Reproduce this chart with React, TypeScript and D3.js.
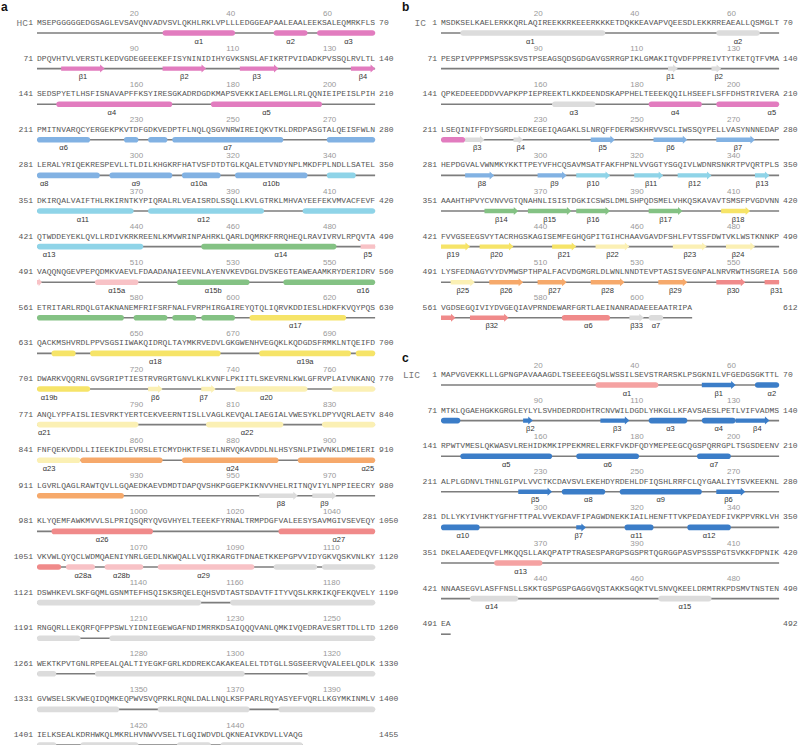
import React from 'react';
import * as d3 from 'd3';

// ---------------- DATA ----------------
const hcRows = [
  'MSEPGGGGGEDGSAGLEVSAVQNVADVSVLQKHLRKLVPLLLEDGGEAPAALEAALEEKSALEQMRKFLS',
  'DPQVHTVLVERSTLKEDVGDEGEEEKEFISYNINIDIHYGVKSNSLAFIKRTPVIDADKPVSSQLRVLTL',
  'SEDSPYETLHSFISNAVAPFFKSYIRESGKADRDGDKMAPSVEKKIAELEMGLLRLQQNIEIPEISLPIH',
  'PMITNVARQCYERGEKPKVTDFGDKVEDPTFLNQLQSGVNRWIREIQKVTKLDRDPASGTALQEISFWLN',
  'LERALYRIQEKRESPEVLLTLDILKHGKRFHATVSFDTDTGLKQALETVNDYNPLMKDFPLNDLLSATEL',
  'DKIRQALVAIFTHLRKIRNTKYPIQRALRLVEAISRDLSSQLLKVLGTRKLMHVAYEEFEKVMVACFEVF',
  'QTWDDEYEKLQVLLRDIVKRKREENLKMVWRINPAHRKLQARLDQMRKFRRQHEQLRAVIVRVLRPQVTA',
  'VAQQNQGEVPEPQDMKVAEVLFDAADANAIEEVNLAYENVKEVDGLDVSKEGTEAWEAAMKRYDERIDRV',
  'ETRITARLRDQLGTAKNANEMFRIFSRFNALFVRPHIRGAIREYQTQLIQRVKDDIESLHDKFKVQYPQS',
  'QACKMSHVRDLPPVSGSIIWAKQIDRQLTAYMKRVEDVLGKGWENHVEGQKLKQDGDSFRMKLNTQEIFD',
  'DWARKVQQRNLGVSGRIPTIESTRVRGRTGNVLKLKVNFLPKIITLSKEVRNLKWLGFRVPLAIVNKANQ',
  'ANQLYPFAISLIESVRKTYERTCEKVEERNTISLLVAGLKEVQALIAEGIALVWESYKLDPYVQRLAETV',
  'FNFQEKVDDLLIIEEKIDLEVRSLETCMYDHKTFSEILNRVQKAVDDLNLHSYSNLPIWVNKLDMEIERI',
  'LGVRLQAGLRAWTQVLLGQAEDKAEVDMDTDAPQVSHKPGGEPKIKNVVHELRITNQVIYLNPPIEECRY',
  'KLYQEMFAWKMVVLSLPRIQSQRYQVGVHYELTEEEKFYRNALTRMPDGFVALEESYSAVMGIVSEVEQY',
  'VKVWLQYQCLWDMQAENIYNRLGEDLNKWQALLVQIRKARGTFDNAETKKEPGPVVIDYGKVQSKVNLKY',
  'DSWHKEVLSKFGQMLGSNMTEFHSQISKSRQELEQHSVDTASTSDAVTFITYVQSLKRKIKQFEKQVELY',
  'RNGQRLLEKQRFQFPPSWLYIDNIEGEWGAFNDIMRRKDSAIQQQVANLQMKIVQEDRAVESRTTDLLTD',
  'WEKTKPVTGNLRPEEALQALTIYEGKFGRLKDDREKCAKAKEALELTDTGLLSGSEERVQVALEELQDLK',
  'GVWSELSKVWEQIDQMKEQPWVSVQPRKLRQNLDALLNQLKSFPARLRQYASYEFVQRLLKGYMKINMLV',
  'IELKSEALKDRHWKQLMKRLHVNWVVSELTLGQIWDVDLQKNEAIVKDVLLVAQG',
];

const icRows = [
  'MSDKSELKAELERKKQRLAQIREEKKRKEEERKKKETDQKKEAVAPVQEESDLEKKRREAEALLQSMGLT',
  'PESPIVPPPMSPSSKSVSTPSEAGSQDSGDGAVGSRRGPIKLGMAKITQVDFPPREIVTYTKETQTFVMA',
  'QPKEDEEEDDDVVAPKPPIEPREEKTLKKDEENDSKAPPHELTEEEKQQILHSEEFLSFFDHSTRIVERA',
  'LSEQINIFFDYSGRDLEDKEGEIQAGAKLSLNRQFFDERWSKHRVVSCLIWSSQYPELLVASYNNNEDAP',
  'HEPDGVALVWNMKYKKTTPEYVFHCQSAVMSATFAKFHPNLVVGGTYSGQIVLWDNRSNKRTPVQRTPLS',
  'AAAHTHPVYCVNVVGTQNAHNLISISTDGKICSWSLDMLSHPQDSMELVHKQSKAVAVTSMSFPVGDVNN',
  'FVVGSEEGSVYTACRHGSKAGISEMFEGHQGPITGIHCHAAVGAVDFSHLFVTSSFDWTVKLWSTKNNKP',
  'LYSFEDNAGYVYDVMWSPTHPALFACVDGMGRLDLWNLNNDTEVPTASISVEGNPALNRVRWTHSGREIA',
  'VGDSEGQIVIYDVGEQIAVPRNDEWARFGRTLAEINANRADAEEEAATRIPA',
];

const licRows = [
  'MAPVGVEKKLLLGPNGPAVAAAGDLTSEEEEGQSLWSSILSEVSTRARSKLPSGKNILVFGEDGSGKTTL',
  'MTKLQGAEHGKKGRGLEYLYLSVHDEDRDDHTRCNVWILDGDLYHKGLLKFAVSAESLPETLVIFVADMS',
  'RPWTVMESLQKWASVLREHIDKMKIPPEKMRELERKFVKDFQDYMEPEEGCQGSPQRRGPLTSGSDEENV',
  'ALPLGDNVLTHNLGIPVLVVCTKCDAVSVLEKEHDYRDEHLDFIQSHLRRFCLQYGAALIYTSVKEEKNL',
  'DLLYKYIVHKTYGFHFTTPALVVEKDAVFIPAGWDNEKKIAILHENFTTVKPEDAYEDFIVKPPVRKLVH',
  'DKELAAEDEQVFLMKQQSLLAKQPATPTRASESPARGPSGSPRTQGRGGPASVPSSSPGTSVKKFDPNIK',
  'NNAASEGVLASFFNSLLSKKTGSPGSPGAGGVQSTAKKSGQKTVLSNVQKEELDRMTRKPDSMVTNSTEN',
  'EA',
];

// secondary structure: t = h (helix) / s (strand), s..e residues, c = colour group, l = label, at = label residue
const hcElements = [
  { t: 'h', s: 27, e: 41, c: 'pink', l: 'α1', at: 34 },
  { t: 'h', s: 50, e: 56, c: 'pink', l: 'α2', at: 53 },
  { t: 'h', s: 59, e: 70, c: 'pink', l: 'α3', at: 65 },
  { t: 's', s: 76, e: 84, c: 'pink', l: 'β1', at: 80 },
  { t: 's', s: 97, e: 105, c: 'pink', l: 'β2', at: 101 },
  { t: 's', s: 113, e: 120, c: 'pink', l: 'β3', at: 116 },
  { t: 's', s: 136, e: 140, c: 'pink', l: 'β4', at: 138 },
  { t: 'h', s: 145, e: 168, c: 'pink', l: 'α4', at: 156 },
  { t: 'h', s: 177, e: 199, c: 'pink', l: 'α5', at: 188 },
  { t: 'h', s: 211, e: 221, c: 'blue', l: 'α6', at: 216 },
  { t: 'h', s: 229, e: 231, c: 'blue' },
  { t: 'h', s: 234, e: 237, c: 'blue' },
  { t: 'h', s: 239, e: 261, c: 'blue', l: 'α7', at: 250 },
  { t: 'h', s: 271, e: 280, c: 'blue' },
  { t: 'h', s: 281, e: 293, c: 'blue', l: 'α8', at: 282 },
  { t: 'h', s: 296, e: 308, c: 'blue', l: 'α9', at: 301 },
  { t: 'h', s: 311, e: 318, c: 'blue', l: 'α10a', at: 314 },
  { t: 'h', s: 322, e: 336, c: 'blue', l: 'α10b', at: 329 },
  { t: 'h', s: 341, e: 346, c: 'cyan' },
  { t: 'h', s: 351, e: 370, c: 'cyan', l: 'α11', at: 360 },
  { t: 'h', s: 374, e: 397, c: 'cyan', l: 'α12', at: 385 },
  { t: 'h', s: 406, e: 442, c: 'cyan', l: 'α13', at: 423 },
  { t: 'h', s: 455, e: 482, c: 'green', l: 'α14', at: 471 },
  { t: 's', s: 488, e: 491, c: 'ltpink', l: 'β5', at: 489 },
  { t: 'h', s: 503, e: 511, c: 'ltpink', l: 'α15a', at: 507 },
  { t: 'h', s: 520, e: 534, c: 'green', l: 'α15b', at: 527 },
  { t: 'h', s: 542, e: 578, c: 'green', l: 'α16', at: 558 },
  { t: 'h', s: 581, e: 587, c: 'green' },
  { t: 'h', s: 589, e: 593, c: 'green' },
  { t: 'h', s: 595, e: 601, c: 'green' },
  { t: 'h', s: 605, e: 624, c: 'yellow', l: 'α17', at: 614 },
  { t: 'h', s: 634, e: 638, c: 'yellow' },
  { t: 'h', s: 642, e: 668, c: 'yellow', l: 'α18', at: 655 },
  { t: 'h', s: 677, e: 695, c: 'yellow', l: 'α19a', at: 686 },
  { t: 'h', s: 697, e: 711, c: 'yellow', l: 'α19b', at: 703 },
  { t: 's', s: 724, e: 726, c: 'pale', l: 'β6', at: 725 },
  { t: 's', s: 735, e: 737, c: 'pale', l: 'β7', at: 735 },
  { t: 'h', s: 742, e: 756, c: 'pale', l: 'α20', at: 748 },
  { t: 'h', s: 762, e: 791, c: 'pale', l: 'α21', at: 772 },
  { t: 'h', s: 806, e: 821, c: 'pale', l: 'α22', at: 814 },
  { t: 'h', s: 830, e: 849, c: 'pale', l: 'α23', at: 843 },
  { t: 'h', s: 850, e: 866, c: 'orange' },
  { t: 'h', s: 871, e: 890, c: 'orange', l: 'α24', at: 881 },
  { t: 'h', s: 895, e: 928, c: 'orange', l: 'α25', at: 909 },
  { t: 's', s: 957, e: 964, c: 'gray', l: 'β8', at: 961 },
  { t: 's', s: 968, e: 972, c: 'gray', l: 'β9', at: 970 },
  { t: 'h', s: 984, e: 1004, c: 'salmon', l: 'α26', at: 994 },
  { t: 'h', s: 1031, e: 1055, c: 'salmon', l: 'α27', at: 1043 },
  { t: 'h', s: 1057, e: 1062, c: 'ltpink', l: 'α28a', at: 1060 },
  { t: 'h', s: 1065, e: 1072, c: 'ltpink', l: 'α28b', at: 1068 },
  { t: 'h', s: 1076, e: 1095, c: 'ltpink', l: 'α29', at: 1085 },
  { t: 'h', s: 1100, e: 1108, c: 'gray' },
  { t: 'h', s: 1110, e: 1154, c: 'gray' },
  { t: 'h', s: 1161, e: 1199, c: 'gray' },
  { t: 'h', s: 1206, e: 1264, c: 'gray' },
  { t: 'h', s: 1273, e: 1303, c: 'gray' },
  { t: 'h', s: 1317, e: 1347, c: 'gray' },
  { t: 'h', s: 1356, e: 1374, c: 'gray' },
  { t: 'h', s: 1381, e: 1404, c: 'gray' },
  { t: 'h', s: 1410, e: 1421, c: 'gray' },
  { t: 'h', s: 1430, e: 1436, c: 'gray' },
  { t: 'h', s: 1439, e: 1455, c: 'gray' },
];

const icElements = [
  { t: 'h', s: 5, e: 34, c: 'gray', l: 'α1', at: 19 },
  { t: 'h', s: 58, e: 66, c: 'gray', l: 'α2', at: 62 },
  { t: 's', s: 118, e: 119, c: 'gray', l: 'β1', at: 118 },
  { t: 's', s: 127, e: 128, c: 'gray', l: 'β2', at: 128 },
  { t: 'h', s: 164, e: 172, c: 'gray', l: 'α3', at: 168 },
  { t: 'h', s: 184, e: 194, c: 'pink', l: 'α4', at: 189 },
  { t: 'h', s: 198, e: 215, c: 'pink', l: 'α5', at: 209 },
  { t: 's', s: 216, e: 219, c: 'gray', l: 'β3', at: 218 },
  { t: 's', s: 226, e: 227, c: 'gray', l: 'β4', at: 227 },
  { t: 's', s: 242, e: 246, c: 'blue', l: 'β5', at: 244 },
  { t: 's', s: 255, e: 261, c: 'blue', l: 'β6', at: 258 },
  { t: 's', s: 268, e: 275, c: 'blue', l: 'β7', at: 272 },
  { t: 's', s: 286, e: 291, c: 'blue', l: 'β8', at: 289 },
  { t: 's', s: 301, e: 306, c: 'blue', l: 'β9', at: 304 },
  { t: 's', s: 309, e: 315, c: 'cyan', l: 'β10', at: 312 },
  { t: 's', s: 321, e: 326, c: 'cyan', l: 'β11', at: 324 },
  { t: 's', s: 330, e: 336, c: 'cyan', l: 'β12', at: 333 },
  { t: 's', s: 346, e: 348, c: 'cyan', l: 'β13', at: 347 },
  { t: 's', s: 360, e: 366, c: 'green', l: 'β14', at: 363 },
  { t: 's', s: 369, e: 377, c: 'green', l: 'β15', at: 373 },
  { t: 's', s: 379, e: 385, c: 'green', l: 'β16', at: 382 },
  { t: 's', s: 394, e: 400, c: 'green', l: 'β17', at: 397 },
  { t: 's', s: 409, e: 414, c: 'yellow', l: 'β18', at: 412 },
  { t: 's', s: 421, e: 426, c: 'yellow', l: 'β19', at: 423 },
  { t: 's', s: 429, e: 435, c: 'yellow', l: 'β20', at: 432 },
  { t: 's', s: 444, e: 448, c: 'yellow', l: 'β21', at: 446 },
  { t: 's', s: 453, e: 459, c: 'pale', l: 'β22', at: 456 },
  { t: 's', s: 469, e: 475, c: 'pale', l: 'β23', at: 472 },
  { t: 's', s: 480, e: 485, c: 'pale', l: 'β24', at: 482 },
  { t: 's', s: 493, e: 497, c: 'pale', l: 'β25', at: 495 },
  { t: 's', s: 501, e: 507, c: 'orange', l: 'β26', at: 504 },
  { t: 's', s: 511, e: 516, c: 'orange', l: 'β27', at: 514 },
  { t: 's', s: 522, e: 528, c: 'orange', l: 'β28', at: 525 },
  { t: 's', s: 536, e: 541, c: 'orange', l: 'β29', at: 539 },
  { t: 's', s: 548, e: 553, c: 'salmon', l: 'β30', at: 551 },
  { t: 's', s: 558, e: 563, c: 'salmon', l: 'β31', at: 560 },
  { t: 's', s: 567, e: 574, c: 'salmon', l: 'β32', at: 571 },
  { t: 'h', s: 586, e: 595, c: 'salmon', l: 'α6', at: 591 },
  { t: 's', s: 600, e: 602, c: 'gray', l: 'β33', at: 601 },
  { t: 'h', s: 604, e: 606, c: 'gray', l: 'α7', at: 605 },
];

const licElements = [
  { t: 'h', s: 33, e: 45, c: 'coral', l: 'α1', at: 39 },
  { t: 's', s: 55, e: 61, c: 'navy', l: 'β1', at: 58 },
  { t: 'h', s: 66, e: 74, c: 'navy', l: 'α2', at: 69 },
  { t: 's', s: 88, e: 89, c: 'navy', l: 'β2', at: 89 },
  { t: 's', s: 104, e: 109, c: 'navy', l: 'β3', at: 107 },
  { t: 'h', s: 114, e: 121, c: 'navy', l: 'α3', at: 118 },
  { t: 'h', s: 125, e: 131, c: 'navy', l: 'α4', at: 128 },
  { t: 's', s: 132, e: 138, c: 'navy', l: 'β4', at: 136 },
  { t: 'h', s: 145, e: 163, c: 'navy', l: 'α5', at: 154 },
  { t: 'h', s: 169, e: 181, c: 'navy', l: 'α6', at: 175 },
  { t: 'h', s: 194, e: 200, c: 'navy', l: 'α7', at: 197 },
  { t: 's', s: 227, e: 233, c: 'navy', l: 'β5', at: 230 },
  { t: 'h', s: 236, e: 244, c: 'navy', l: 'α8', at: 241 },
  { t: 'h', s: 248, e: 264, c: 'navy', l: 'α9', at: 256 },
  { t: 's', s: 268, e: 273, c: 'navy', l: 'β6', at: 270 },
  { t: 'h', s: 281, e: 288, c: 'navy', l: 'α10', at: 285 },
  { t: 's', s: 309, e: 310, c: 'navy', l: 'β7', at: 309 },
  { t: 'h', s: 319, e: 324, c: 'navy', l: 'α11', at: 321 },
  { t: 'h', s: 332, e: 340, c: 'navy', l: 'α12', at: 336 },
  { t: 'h', s: 362, e: 371, c: 'coral', l: 'α13', at: 367 },
  { t: 'h', s: 427, e: 436, c: 'gray', l: 'α14', at: 431 },
  { t: 'h', s: 466, e: 476, c: 'gray', l: 'α15', at: 471 },
];

const tickOffsets = [19, 39, 59];

// ---------------- STYLE ----------------
const palette: Record<string, string> = {
  pink: '#e27cbf',
  blue: '#82b2e3',
  cyan: '#8fd4e8',
  green: '#84c284',
  ltpink: '#f8c2c6',
  yellow: '#f6e468',
  pale: '#fbf0b4',
  orange: '#f6a96b',
  salmon: '#f08a8a',
  gray: '#dcdcdc',
  navy: '#3b7dc8',
  coral: '#f5a2a2',
};

const ROW_LEN = 70;
const CW = 4.83;
const ROW_GAP = 35.6;
const MONO = '"Liberation Mono", "Courier New", monospace';
const SANS = '"Liberation Sans", Arial, sans-serif';

function strandPath(x1: number, x2: number, cy: number, head: boolean) {
  const p = d3.path();
  const bh = 2.2;
  const hh = 4.0;
  if (head) {
    const hl = Math.min(4.5, (x2 - x1) * 0.65);
    const xb = x2 - hl;
    p.moveTo(x1, cy - bh);
    p.lineTo(xb, cy - bh);
    p.lineTo(xb, cy - hh);
    p.lineTo(x2, cy);
    p.lineTo(xb, cy + hh);
    p.lineTo(xb, cy + bh);
    p.lineTo(x1, cy + bh);
  } else {
    p.moveTo(x1, cy - bh);
    p.lineTo(x2, cy - bh);
    p.lineTo(x2, cy + bh);
    p.lineTo(x1, cy + bh);
  }
  p.closePath();
  return p.toString();
}

type Props = {
  letter: string;
  name: string;
  rows: string[];
  elements: any[];
  x0: number;
  y0: number;
  letterX: number;
  letterY: number;
  nameX: number;
};

function Panel({ letter, name, rows, elements, x0, y0, letterX, letterY, nameX }: Props) {
  const seq = rows.join('');
  const total = seq.length;
  const nRows = Math.ceil(total / ROW_LEN);
  const x = d3.scaleLinear().domain([0, ROW_LEN]).range([x0, x0 + ROW_LEN * CW]);
  const y = d3.scaleLinear().domain([0, 1]).range([y0, y0 + ROW_GAP]);

  return (
    <g>
      <text x={letterX} y={letterY} fontFamily={SANS} fontWeight="bold" fontSize={12} fill="#111">
        {letter}
      </text>
      {d3.range(nRows).map((i) => {
        const start = i * ROW_LEN + 1;
        const end = Math.min(start + ROW_LEN - 1, total);
        const n = end - start + 1;
        const T = y(i);
        const barY = T + 11;
        const rowSeq = seq.slice(start - 1, end);
        const segs = elements.filter((e) => e.s <= end && e.e >= start);
        const labels = elements.filter((e) => e.l && e.at >= start && e.at <= end);
        return (
          <g key={i}>
            {tickOffsets
              .filter((k) => start + k <= end)
              .map((k) => (
                <text
                  key={k}
                  x={x(k) + 1}
                  y={T - 6.5}
                  textAnchor="start"
                  fontFamily={SANS}
                  fontSize={8}
                  fill="#9a9a9a"
                >
                  {start + k}
                </text>
              ))}
            {i === 0 && (
              <text x={nameX} y={T + 3.5} textAnchor="end" fontFamily={MONO} fontSize={9.5} fill="#7a7a7a">
                {name}
              </text>
            )}
            <text x={x0 - 4} y={T + 3} textAnchor="end" fontFamily={MONO} fontSize={8} fill="#555">
              {start}
            </text>
            <text
              x={x(0)}
              y={T + 3}
              fontFamily={MONO}
              fontSize={8}
              fill="#555"
              textLength={n * CW}
              lengthAdjust="spacing"
            >
              {rowSeq}
            </text>
            <text x={x(ROW_LEN) + 4} y={T + 3} fontFamily={MONO} fontSize={8} fill="#555">
              {end}
            </text>
            <line x1={x(0)} x2={x(n)} y1={barY} y2={barY} stroke="#7d7d7d" strokeWidth={1.6} />
            {segs.map((e, j) => {
              const a = Math.max(e.s, start) - start;
              const b = Math.min(e.e, end) - start + 1;
              const fill = palette[e.c];
              if (e.t === 's') {
                return <path key={j} d={strandPath(x(a), x(b), barY, e.e <= end)} fill={fill} />;
              }
              return (
                <rect
                  key={j}
                  x={x(a)}
                  y={barY - 2.8}
                  width={x(b) - x(a)}
                  height={5.6}
                  rx={2.8}
                  fill={fill}
                />
              );
            })}
            {labels.map((e, j) => (
              <text
                key={'l' + j}
                x={x(e.at - start + 0.5)}
                y={T + 21.5}
                textAnchor="middle"
                fontFamily={SANS}
                fontSize={7.5}
                fill="#333"
              >
                {e.l}
              </text>
            ))}
          </g>
        );
      })}
    </g>
  );
}

export default function App() {
  return (
    <svg
      width={800}
      height={745}
      viewBox="0 0 800 745"
      style={{ position: 'absolute', left: 0, top: 0, background: '#fff' }}
    >
      <rect width={800} height={745} fill="#fff" />
      <Panel letter="a" name="HC" rows={hcRows} elements={hcElements} x0={37} y0={22} letterX={1} letterY={11} nameX={28} />
      <Panel letter="b" name="IC" rows={icRows} elements={icElements} x0={441} y0={22} letterX={402} letterY={11} nameX={426} />
      <Panel letter="c" name="LIC" rows={licRows} elements={licElements} x0={441} y0={374} letterX={402} letterY={362} nameX={420} />
    </svg>
  );
}
